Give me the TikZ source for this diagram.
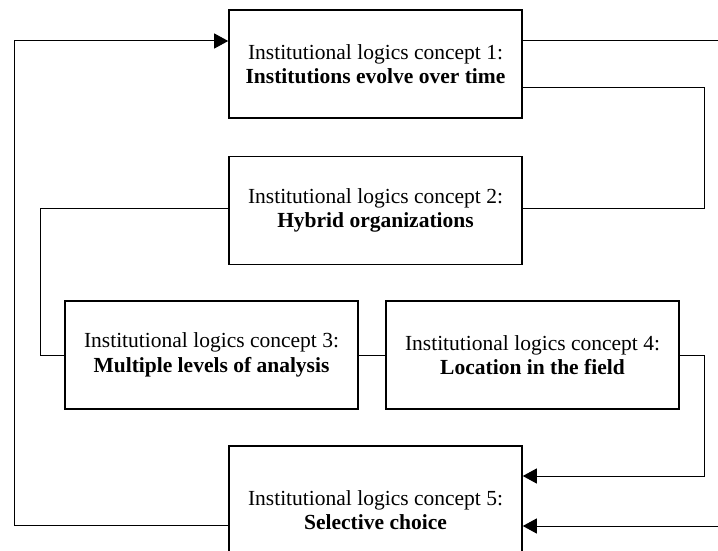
\documentclass[tikz,border=0pt]{standalone}
\usepackage{fontspec}
\setmainfont{Liberation Serif}
\usetikzlibrary{arrows.meta}
\begin{document}
\begin{tikzpicture}[x=1pt,y=-1pt,
  box/.style={draw,line width=1.6pt,minimum width=293pt,minimum height=108pt,inner sep=0pt,
    align=center,font=\fontsize{21.5pt}{24.5pt}\selectfont},
  conn/.style={line width=1pt},
  arr/.style={conn,-{Triangle[length=14pt,width=15pt]}}]
\useasboundingbox (0,0) rectangle (718,551);
\node[box] (b1) at (375.5,64) {Institutional logics concept 1:\\\textbf{Institutions evolve over time}};
\node[box] (b2) at (375.5,210.5) {Institutional logics concept 2:\\\textbf{Hybrid organizations}};
\node[box] (b3) at (211.5,355) {Institutional logics concept 3:\\\textbf{Multiple levels of analysis}};
\node[box] (b4) at (532.5,355) {Institutional logics concept 4:\\\textbf{Location in the field}};
\node[box,minimum height=128pt] (b5) at (375.5,510) {Institutional logics concept 5:\\\textbf{Selective choice}};
\coordinate (lt) at (14,41);
\coordinate (lb) at (14,525);
\coordinate (r1) at (718,41);
\coordinate (c1) at (704,88);
\coordinate (c2) at (704,208);
\coordinate (c3) at (40,208);
\coordinate (c4) at (40,355);
\coordinate (c5) at (704,355);
\coordinate (c6) at (704,476);
\coordinate (r5) at (718,526);
\draw[arr] (b5.west |- lb) -- (lb) -- (lt) -- (b1.west |- lt);
\draw[conn] (b1.east |- r1) -- (r1);
\draw[conn] (b1.east |- c1) -- (c1) -- (c2) -- (b2.east |- c2);
\draw[conn] (b2.west |- c3) -- (c3) -- (c4) -- (b3.west |- c4);
\draw[conn] (b3.east) -- (b4.west);
\draw[arr] (b4.east |- c5) -- (c5) -- (c6) -- (b5.east |- c6);
\draw[arr] (r5) -- (b5.east |- r5);
\end{tikzpicture}
\end{document}
